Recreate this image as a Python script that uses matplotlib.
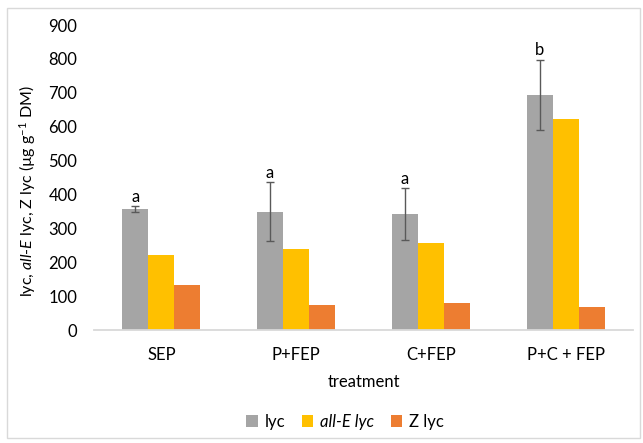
import matplotlib
matplotlib.use("Agg")
import matplotlib.pyplot as plt
import numpy as np
from matplotlib.patches import Rectangle

categories = ["SEP", "P+FEP", "C+FEP", "P+C + FEP"]
lyc = [358, 350, 343, 694]
lyc_err = [8, 86, 76, 104]
all_e = [221, 240, 257, 622]
z_lyc = [134, 74, 81, 70]
letters = ["a", "a", "a", "b"]
series_names = ["lyc", "all-E lyc", "Z lyc"]
colors = ["#a5a5a5", "#ffc000", "#ed7d31"]

plt.rcParams['font.family'] = ['Lato', 'DejaVu Sans']
plt.rcParams['mathtext.fontset'] = 'custom'
plt.rcParams['mathtext.rm'] = 'Lato'
plt.rcParams['mathtext.it'] = 'Lato:italic'

fig = plt.figure(figsize=(6.43, 4.43), dpi=100)
ax = fig.add_axes([94/643, (443-330.3)/443, (633-94)/643, (330.3-25)/443])

x = np.arange(len(categories))
w = 0.193
vals = [lyc, all_e, z_lyc]
for i, (v, c, n) in enumerate(zip(vals, colors, series_names)):
    ax.bar(x + (i-1)*w, v, w, color=c, label=n, zorder=2)

ax.errorbar(x - w, lyc, yerr=lyc_err, fmt='none', ecolor='#595959',
            elinewidth=1, capsize=3, capthick=1, zorder=3)
for xi, v, e, t in zip(x, lyc, lyc_err, letters):
    ax.text(xi - w, v + e + 4, t, ha='center', va='bottom', fontsize=12, color='#000000')

ax.set_xlim(-0.5, len(categories)-0.5)
ax.set_ylim(0, 900)
ax.set_yticks(range(0, 901, 100))
ax.set_xticks(x)
ax.set_xticklabels(categories)
for s in ['top', 'right', 'left']:
    ax.spines[s].set_visible(False)
ax.spines['bottom'].set_color('#d9d9d9')
ax.spines['bottom'].set_linewidth(1.3)
ax.tick_params(axis='both', length=0, labelsize=12, colors='#000000')
ax.tick_params(axis='y', pad=12)
ax.tick_params(axis='x', pad=12)

ax.set_xlabel("treatment", fontsize=12, labelpad=8)
ax.set_ylabel(r"lyc, $\mathit{all}$-$\mathit{E}$ lyc, Z lyc (µg g$^{-1}$ DM)", fontsize=11.5,
              va='center')
ax.yaxis.set_label_coords((28-94)/539, (330.3-191)/305.3)

leg = fig.legend(loc='center', bbox_to_anchor=(345/643, (443-422)/443), ncol=3,
                 frameon=False, fontsize=12, handlelength=0.7, handleheight=0.7,
                 handletextpad=0.4, columnspacing=1.0)
leg.get_texts()[1].set_fontstyle('italic')

fig.patches.append(Rectangle((7/643, 5/443), 633/643, 430/443, transform=fig.transFigure,
                             fill=False, edgecolor='#d9d9d9', linewidth=1))

fig.savefig("out.png", dpi=100)
